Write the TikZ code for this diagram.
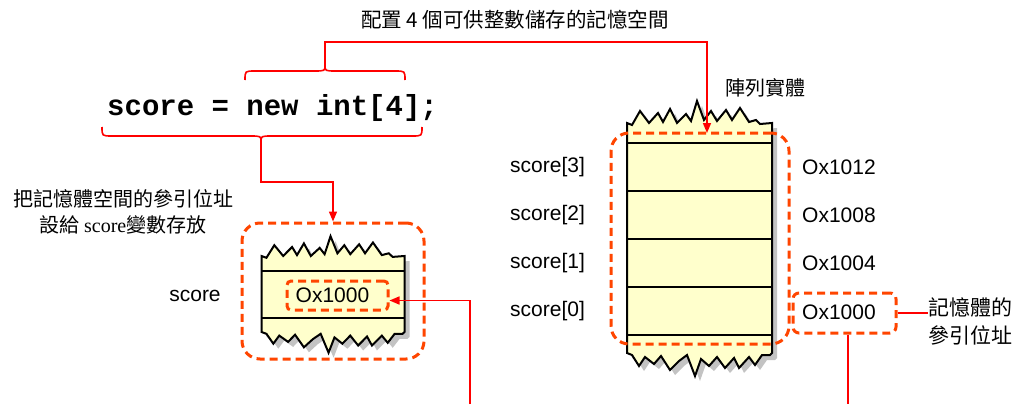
\documentclass[tikz,border=0pt]{standalone}
\usepackage{fontspec}
\setmainfont{Liberation Sans}
\newfontfamily\cjkfont{Noto Sans CJK TC}
\newfontfamily\codefont{Liberation Mono}
\newfontfamily\romanfont{Liberation Serif}
\usetikzlibrary{arrows.meta,calc}

\definecolor{memfill}{RGB}{255,255,204}
\definecolor{shadowgray}{RGB}{195,195,195}
\definecolor{hilite}{RGB}{255,69,0}
\definecolor{linkred}{RGB}{255,0,0}

% torn edges of a memory strip: relative x (0..145) / height of the tooth
\def\topzig{0/0,5/-2,13/12,22/0,31/10,36/1,43/14,50/0,59/9,64/2,70/22,77/3,84/12,90/2,99/13,105/3,113/15,122/1,129/3,133/-1,145/0}
\def\botzig{145/0,143/2,135/2,128/12,122/4,112/15,107/5,98/15,90/4,82/13,74/6,68/23,60/2,52/8,43/17,34/3,27/11,18/4,12/13,5/2,0/0}

% #1 left x, #2 width, #3 y of top corners, #4 y of bottom corners, #5 tooth scale
\newcommand\memstrip[5]{%
  \fill[shadowgray,shift={(5,5)}] (#1,#3)
    \foreach \dx/\dy in \topzig { -- ({#1+\dx*(#2/145)},{#3-#5*\dy}) }
    \foreach \dx/\dy in \botzig { -- ({#1+\dx*(#2/145)},{#4+#5*\dy}) } -- cycle;
  \filldraw[fill=memfill,draw=black,line width=2pt,line join=miter] (#1,#3)
    \foreach \dx/\dy in \topzig { -- ({#1+\dx*(#2/145)},{#3-#5*\dy}) }
    \foreach \dx/\dy in \botzig { -- ({#1+\dx*(#2/145)},{#4+#5*\dy}) } -- cycle;
}

\tikzset{
  cjk/.style={font=\cjkfont\fontsize{20.5}{26}\selectfont, inner sep=0pt},
  lab/.style={font=\fontsize{21}{25}\selectfont, inner sep=0pt},
  hibox/.style={draw=hilite, line width=3pt, dash pattern=on 8pt off 5pt, inner sep=0pt},
  link/.style={draw=linkred, line width=1.6pt},
  linkarrow/.style={link, -{Triangle[length=10pt,width=8pt]}},
  cellline/.style={draw=black, line width=2pt},
}

\begin{document}
\begin{tikzpicture}[x=1pt,y=-1pt]
\useasboundingbox (0,0) rectangle (1014,404);

% ---- texts ----
\node[cjk] (toptext) at (515,20) {配置 4 個可供整數儲存的記憶空間};
\node[anchor=base west, inner sep=0pt, font=\codefont\bfseries\fontsize{29}{30}\selectfont] (code) at (107,115) {score = new int[4];};
\node[cjk, align=center, font=\cjkfont\fontsize{20}{26}\selectfont] (ltext) at (123,212) {把記憶體空間的參引位址\\設給 {\romanfont score}變數存放};
\node[cjk, font=\cjkfont\fontsize{20}{26}\selectfont] (arrtext) at (765,88) {陣列實體};

% ---- variable score ----
\memstrip{261.5}{143}{256}{332}{0.9}
\draw[cellline] (261.5,271) -- (404.5,271);
\draw[cellline] (261.5,318) -- (404.5,318);
\node[lab] (slab) at (195,296) {score};
\node[lab] (sval) at (332.5,295) {Ox1000};
\node[hibox, rounded corners=4pt, minimum width=101pt, minimum height=29pt] (ibox) at (337.5,295.5) {};
\node[hibox, rounded corners=18pt, minimum width=182pt, minimum height=136pt] (lbox) at (333,291) {};

% ---- array object ----
\memstrip{627}{145}{123}{353}{1}
\foreach \yy in {143,191,239,287,335} { \draw[cellline] (627,\yy) -- (772,\yy); }
\foreach \i/\yy in {3/167,2/215,1/263,0/311} {
  \node[lab] (idx\i) at (547.5,\yy) {score[\i]};
}
\node[lab, anchor=west] (adr3) at (802,167) {Ox1012};
\node[lab, anchor=west] (adr2) at (802,215) {Ox1008};
\node[lab, anchor=west] (adr1) at (802,263) {Ox1004};
\node[lab, anchor=west] (adr0) at (802,312) {Ox1000};
\node[hibox, rounded corners=18pt, minimum width=178pt, minimum height=211pt] (rbox) at (700,238.5) {};
\node[hibox, rounded corners=6pt, minimum width=103pt, minimum height=40pt] (abox) at (844.5,313) {};
\node[cjk, align=center, font=\cjkfont\fontsize{21}{28}\selectfont] (rtext) at (970,321) {記憶體的\\參引位址};

% ---- braces ----
\coordinate (ubt) at (325,65);
\coordinate (lbt) at (261,142);
\draw[link] (245,80) .. controls (245,71) .. (255,71) -- (314,71)
  .. controls (325,71) .. (ubt) .. controls (325,71) .. (336,71)
  -- (395,71) .. controls (405,71) .. (405,80);
\draw[link] (102,127) .. controls (102,136) .. (112,136) -- (250,136)
  .. controls (261,136) .. (lbt) .. controls (261,136) .. (272,136)
  -- (412,136) .. controls (422,136) .. (422,127);

% ---- connectors ----
\coordinate (atip) at (707,133);
\coordinate (src) at (470,404);
\coordinate (dst) at (848,404);
\draw[linkarrow] (ubt) -- ++(0,-23) -| (atip);
\draw[linkarrow] (lbt) -- ++(0,40) -| (lbox.north);
\draw[linkarrow] (src) |- ([yshift=-5pt]ibox.east);
\draw[link] (abox.east) -- (abox.east -| rtext.west);
\draw[link] (abox.south -| dst) -- (dst);
\end{tikzpicture}
\end{document}
